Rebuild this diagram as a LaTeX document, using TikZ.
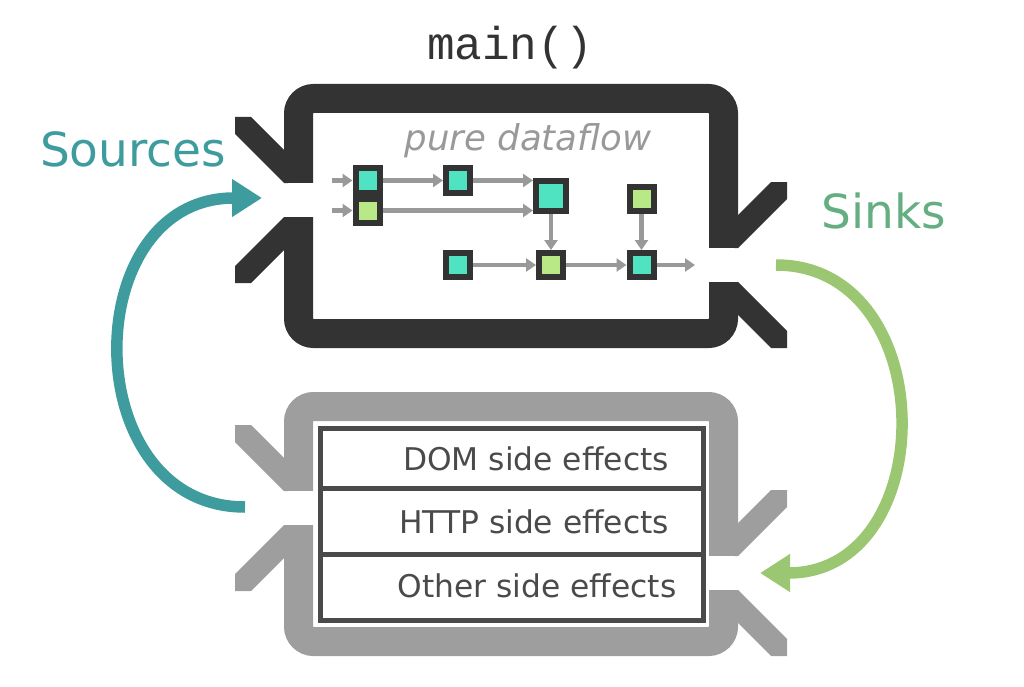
\documentclass[tikz,border=0pt]{standalone}
\usepackage{fontspec}
\setmainfont{DejaVu Sans}
\setmonofont{Liberation Mono}
\usetikzlibrary{arrows.meta}
\definecolor{darkframe}{HTML}{333333}
\definecolor{lightframe}{HTML}{9E9E9E}
\definecolor{flowgray}{HTML}{999999}
\definecolor{tealnode}{HTML}{50E3C2}
\definecolor{greennode}{HTML}{B8E986}
\definecolor{sourcecol}{HTML}{3F9C9E}
\definecolor{sinkarrow}{HTML}{9BC672}
\definecolor{sinkcol}{HTML}{64AE82}
\definecolor{tablecol}{HTML}{4A4A4A}
\tikzset{op/.style = {draw=darkframe, line width=6pt, minimum size=24pt, inner sep=0pt}}
\tikzset{flow/.style = {draw=flowgray, line width=4.5pt, -{Triangle[length=10pt, width=13pt]}}}
\tikzset{bigflow/.style = {line width=11.5pt, -{Triangle[length=30pt, width=36pt]}}}
\tikzset{effect/.style = {anchor=base, text=tablecol, font=\fontsize{31.3pt}{31pt}\selectfont}}
% cut in the frame with its two fins
\newcommand{\notch}[1]{
  \fill[white] (-1,-17) rectangle (30,17);
  \fill[#1] (-49,-83) -- (-33,-83) -- (0,-50) -- (4,-50) -- (4,-17) -- (0,-17) -- (-49,-66) -- cycle;
  \fill[#1] (-49,83) -- (-33,83) -- (0,50) -- (4,50) -- (4,17) -- (0,17) -- (-49,66) -- cycle;
}

\begin{document}
\begin{tikzpicture}[x=1pt, y=-1pt]
\useasboundingbox (0,0) rectangle (1024,687);
% the two boxes
\foreach \dy/\col in {0/darkframe, 308/lightframe}{
  \begin{scope}[shift={(0,\dy)}]
    \draw[\col, line width=29pt, rounded corners=15pt] (298.5,98.5) rectangle (723.5,333.5);
    \begin{scope}[shift={(284,200)}] \notch{\col} \end{scope}
    \begin{scope}[shift={(738,265)}, xscale=-1] \notch{\col} \end{scope}
  \end{scope}
}
\node[anchor=base, text=darkframe, font=\fontsize{46pt}{46pt}\selectfont\ttfamily] (main) at (510,60) {main()};
\node[anchor=base, text=flowgray, font=\fontsize{35.5pt}{35pt}\selectfont\itshape] (pure) at (528,150) {pure dataflow};
% dataflow graph
\node[op, fill=tealnode] (a) at (367.5,180.5) {};
\node[op, fill=greennode] (b) at (367.5,210.5) {};
\node[op, fill=tealnode] (c) at (458,180.5) {};
\node[op, fill=tealnode, minimum size=30pt] (d) at (551,195.5) {};
\node[op, fill=greennode] (e) at (641.5,199) {};
\node[op, fill=tealnode] (f) at (458,265) {};
\node[op, fill=greennode] (g) at (551,265) {};
\node[op, fill=tealnode] (h) at (641.5,265) {};
\coordinate (ina) at (332,180.5);
\coordinate (inb) at (332,210.5);
\coordinate (out) at (695,265);
\draw[flow] (ina) -- (a);
\draw[flow] (inb) -- (b);
\draw[flow] (a) -- (c);
\draw[flow] (c) -- (c -| d.west);
\draw[flow] (b) -- (b -| d.west);
\draw[flow] (d) -- (g);
\draw[flow] (e) -- (h);
\draw[flow] (f) -- (g);
\draw[flow] (g) -- (h);
\draw[flow] (h) -- (out);
% side effects table
\draw[tablecol, line width=5pt] (320,428) rectangle (703.5,620.5);
\draw[tablecol, line width=5pt] (320,488) -- (703.5,488);
\draw[tablecol, line width=5pt] (320,554) -- (703.5,554);
\node[effect] (dom) at (536,470) {DOM side effects};
\node[effect] (http) at (534,533) {HTTP side effects};
\node[effect] (other) at (537,597) {Other side effects};
% sources and sinks
\coordinate (srcstart) at (245,507);
\coordinate (srcend) at (262,198);
\coordinate (snkstart) at (776,265);
\coordinate (snkend) at (760,573);
\draw[bigflow, sourcecol] (srcstart) .. controls (76,507) and (76,198) .. (srcend);
\draw[bigflow, sinkarrow] (snkstart) .. controls (942,265) and (942,573) .. (snkend);
\node[anchor=base, text=sourcecol, font=\fontsize{47pt}{47pt}\selectfont] (sources) at (133,167) {Sources};
\node[anchor=base, text=sinkcol, font=\fontsize{47pt}{47pt}\selectfont] (sinks) at (884,228) {Sinks};
\end{tikzpicture}
\end{document}
